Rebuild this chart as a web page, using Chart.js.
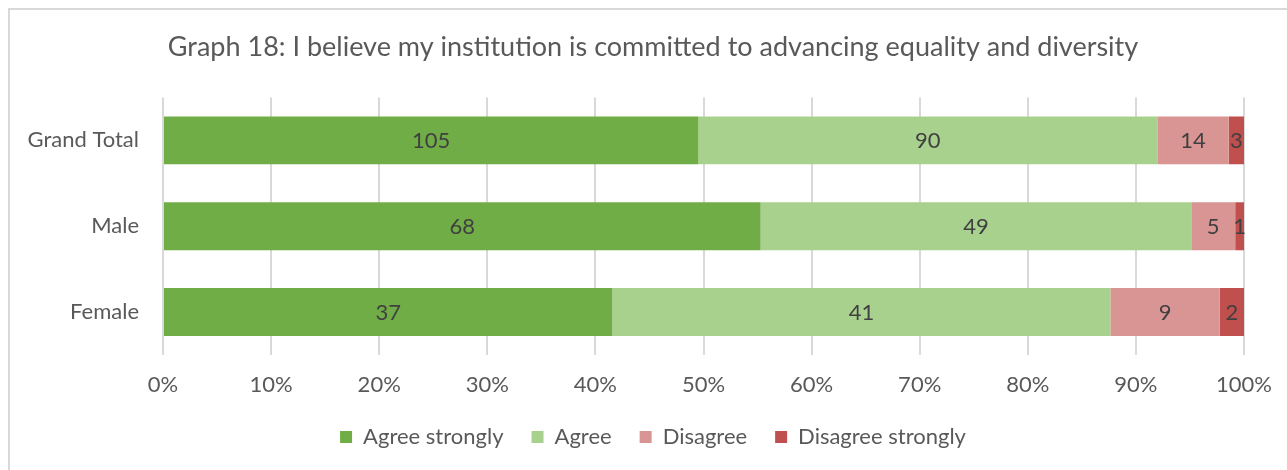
<!DOCTYPE html>
<html>
<head>
<meta charset="utf-8">
<title>Graph 18</title>
<script src="https://cdn.jsdelivr.net/npm/chart.js@4/dist/chart.umd.min.js"></script>
<style>
    html, body {
        margin: 0;
        padding: 0;
        background: #ffffff;
        overflow: hidden;
        width: 1287px;
        height: 470px;
    }
    #frame {
        position: absolute;
        left: 8px;
        top: 8px;
        width: 1400px;
        height: 600px;
        border: 2px solid #d9d9d9;
    }
    #wrap {
        position: absolute;
        left: 0;
        top: 0;
        width: 1306px;
        height: 470px;
    }
</style>
</head>
<body>
<div id="frame"></div>
<div id="wrap"><canvas id="institutionChart"></canvas></div>
<script>
var categories = ['Grand Total', 'Male', 'Female'];
var agreeStrongly = [105, 68, 37];
var agree = [90, 49, 41];
var disagree = [14, 5, 9];
var disagreeStrongly = [3, 1, 2];
var tickLabels = ['0%', '10%', '20%', '30%', '40%', '50%', '60%', '70%', '80%', '90%', '100%'];

var counts = [agreeStrongly, agree, disagree, disagreeStrongly];

// each row is shown as a share of its own total
var totals = categories.map(function (c, i) {
    return agreeStrongly[i] + agree[i] + disagree[i] + disagreeStrongly[i];
});

function toPercent(values) {
    return values.map(function (v, i) {
        return v / totals[i] * 100;
    });
}

var fontFamily = 'Lato, "Noto Sans", sans-serif';

// writes the raw count in the middle of each segment
var segmentLabels = {
    id: 'segmentLabels',
    afterDatasetsDraw: function (chart) {
        var ctx = chart.ctx;
        ctx.save();
        ctx.font = '22px ' + fontFamily;
        ctx.fillStyle = '#404040';
        ctx.textAlign = 'center';
        ctx.textBaseline = 'middle';
        chart.data.datasets.forEach(function (ds, d) {
            var meta = chart.getDatasetMeta(d);
            meta.data.forEach(function (bar, i) {
                var cx = (bar.x + bar.base) / 2;
                ctx.fillText(String(counts[d][i]), cx, bar.y + 1);
            });
        });
        ctx.restore();
    }
};

var ctx = document.getElementById('institutionChart').getContext('2d');
var institutionChart = new Chart(ctx, {
    type: 'bar',
    data: {
        labels: categories,
        datasets: [{
            label: 'Agree strongly',
            data: toPercent(agreeStrongly),
            backgroundColor: '#70ad47'
        }, {
            label: 'Agree',
            data: toPercent(agree),
            backgroundColor: '#a9d18e'
        }, {
            label: 'Disagree',
            data: toPercent(disagree),
            backgroundColor: '#d99594'
        }, {
            label: 'Disagree strongly',
            data: toPercent(disagreeStrongly),
            backgroundColor: '#c0504d'
        }]
    },
    options: {
        indexAxis: 'y',
        responsive: true,
        maintainAspectRatio: false,
        animation: false,
        datasets: {
            bar: {
                categoryPercentage: 1,
                barPercentage: 0.558,
                borderWidth: 0
            }
        },
        layout: {
            padding: { left: 0, right: 0, top: 0, bottom: 12 }
        },
        scales: {
            x: {
                stacked: true,
                min: 0,
                max: 100,
                border: { display: false },
                grid: {
                    color: '#d9d9d9',
                    lineWidth: 2,
                    drawTicks: false
                },
                afterFit: function (scale) {
                    scale.height = 43;
                },
                ticks: {
                    stepSize: 10,
                    padding: 17,
                    color: '#595959',
                    font: { family: fontFamily, size: 22 },
                    callback: function (value, index) {
                        return tickLabels[index];
                    }
                }
            },
            y: {
                stacked: true,
                border: { display: false },
                grid: { display: false, drawTicks: false },
                afterFit: function (scale) {
                    scale.width = 163;
                },
                ticks: {
                    padding: 24,
                    color: '#595959',
                    font: { family: fontFamily, size: 22 }
                }
            },
            // empty right gutter so the plot ends short of the frame edge
            gutter: {
                type: 'category',
                axis: 'y',
                position: 'right',
                border: { display: false },
                grid: { display: false, drawTicks: false },
                ticks: { display: false },
                afterFit: function (scale) {
                    scale.width = 62;
                }
            }
        },
        plugins: {
            title: {
                display: true,
                text: 'Graph 18: I believe my institution is committed to advancing equality and diversity',
                color: '#595959',
                font: { family: fontFamily, size: 27, weight: 'normal' },
                padding: { top: 31, bottom: 34 }
            },
            legend: {
                position: 'bottom',
                labels: {
                    boxWidth: 12,
                    boxHeight: 12,
                    padding: 28,
                    color: '#595959',
                    font: { family: fontFamily, size: 22 }
                }
            },
            tooltip: { enabled: false }
        }
    },
    plugins: [segmentLabels]
});
</script>
</body>
</html>
